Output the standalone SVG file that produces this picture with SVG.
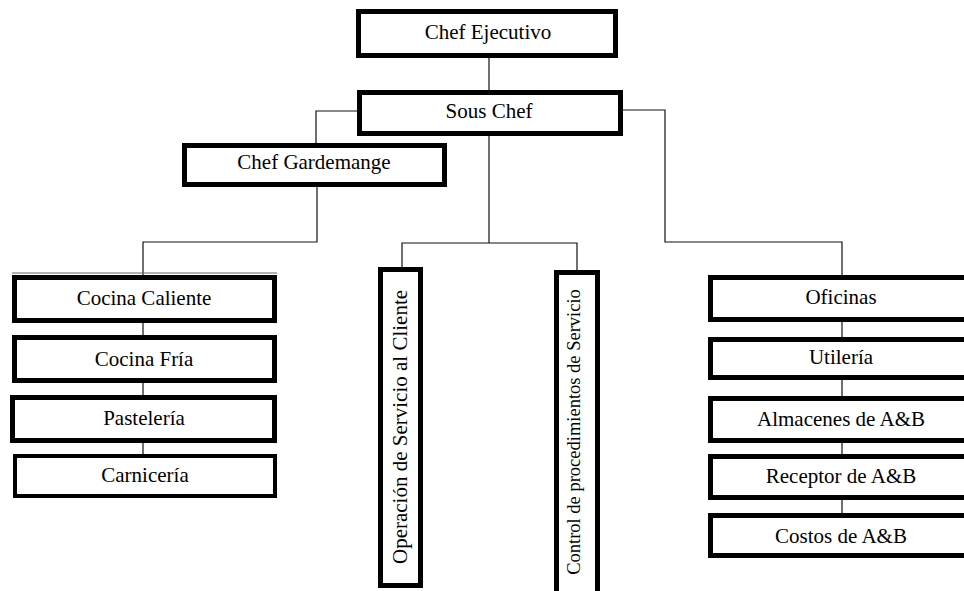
<svg xmlns="http://www.w3.org/2000/svg" width="964" height="591" viewBox="0 0 964 591">
<style>
.box{fill:#fff;stroke:#000;stroke-width:5}
.thin{fill:#fff;stroke:#000;stroke-width:4}
.lbl{font-family:"Liberation Serif","Times New Roman",serif;font-size:21px;fill:#000;text-anchor:middle}
.conn{fill:none;stroke:#111;stroke-width:1.2}
</style>
<rect width="964" height="591" fill="#fff"/>
<g id="connectors">
<path class="conn" d="M489,58V90"/>
<path class="conn" d="M357,111H316V143"/>
<path class="conn" d="M489,136V243M402,267V243H577V270"/>
<path class="conn" d="M623,110H665V242H842V275"/>
<path class="conn" d="M317,187V242H143V275"/>
<path class="conn" d="M143,323V335M143,383V395M143,443V454"/>
<path class="conn" d="M842,322V337M842,380V396M842,443V454M842,500V513"/>
</g>
<g id="chef-ejecutivo"><rect class="box" x="358.5" y="11.5" width="257" height="44"/><text class="lbl" x="488" y="39">Chef Ejecutivo</text></g>
<g id="sous-chef"><rect class="box" x="359.5" y="92.5" width="261" height="41"/><text class="lbl" x="489" y="118">Sous Chef</text></g>
<g id="chef-gardemange"><rect class="box" x="184.5" y="145.5" width="260" height="39"/><text class="lbl" x="314" y="169">Chef Gardemange</text></g>
<g id="cocina-caliente"><line x1="12" y1="273" x2="277" y2="273" stroke="#666" stroke-width="1"/><rect class="box" x="14.5" y="277.5" width="260" height="43"/><text class="lbl" x="144" y="305">Cocina Caliente</text></g>
<g id="cocina-fria"><rect class="box" x="14.5" y="337.5" width="260" height="43"/><text class="lbl" x="144" y="366">Cocina Fría</text></g>
<g id="pasteleria"><rect class="box" x="12.5" y="397.5" width="262" height="43"/><text class="lbl" x="144" y="425">Pastelería</text></g>
<g id="carniceria"><rect class="thin" x="15" y="456" width="260" height="40"/><text class="lbl" x="145" y="482">Carnicería</text></g>
<g id="operacion"><rect class="box" x="380.5" y="269.5" width="40" height="316"/><text class="lbl" transform="translate(407,427) rotate(-90)">Operación de Servicio al Cliente</text></g>
<g id="control"><rect class="box" x="556.5" y="272.5" width="41" height="330"/><text class="lbl" style="font-size:18.5px" transform="translate(580,432) rotate(-90)">Control de procedimientos de Servicio</text></g>
<g id="oficinas"><rect class="box" x="710.5" y="277.5" width="262" height="42"/><text class="lbl" x="841" y="304">Oficinas</text></g>
<g id="utileria"><rect class="box" x="710.5" y="339.5" width="262" height="38"/><text class="lbl" x="841" y="364">Utilería</text></g>
<g id="almacenes"><rect class="box" x="710.5" y="398.5" width="262" height="42"/><text class="lbl" x="841" y="426">Almacenes de A&amp;B</text></g>
<g id="receptor"><rect class="box" x="710.5" y="456.5" width="262" height="41"/><text class="lbl" x="841" y="483">Receptor de A&amp;B</text></g>
<g id="costos"><rect class="box" x="710.5" y="515.5" width="262" height="40"/><text class="lbl" x="841" y="543">Costos de A&amp;B</text></g>
</svg>
